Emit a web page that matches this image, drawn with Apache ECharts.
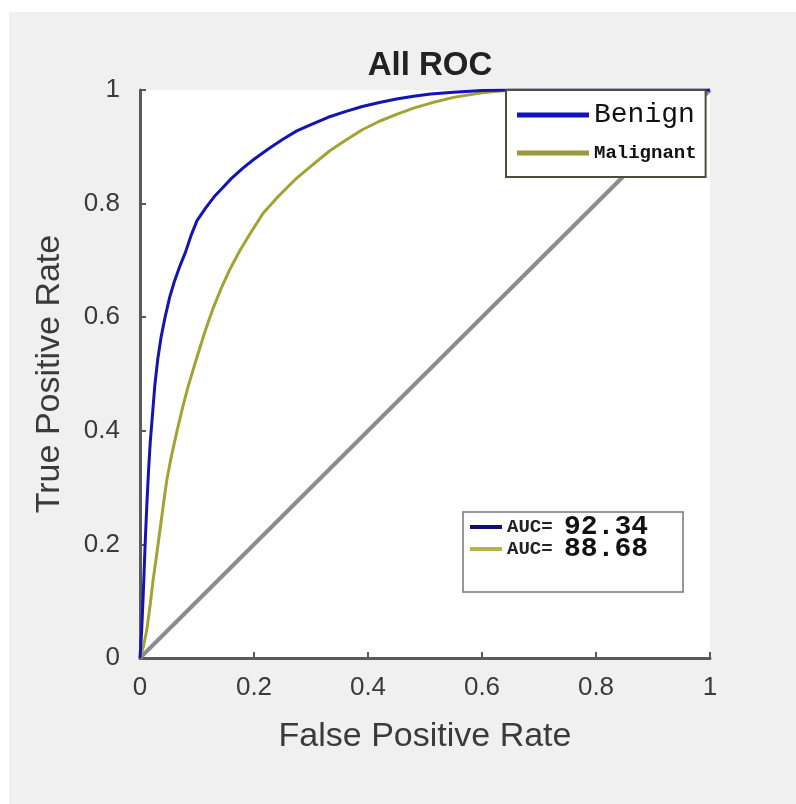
<!DOCTYPE html>
<html>
<head>
<meta charset="utf-8">
<script src="https://cdn.jsdelivr.net/npm/echarts@6/dist/echarts.min.js"></script>
<style>
html,body{margin:0;padding:0;background:#fff;width:796px;height:804px;overflow:hidden;}
#chart{position:absolute;left:9px;top:12px;width:787px;height:792px;}
</style>
</head>
<body>
<div id="chart"></div>
<script>
// ---- data ----
const titleText = 'All ROC';
const xName = 'False Positive Rate';
const yName = 'True Positive Rate';
const seriesNames = ['Benign', 'Malignant'];
const aucValues = ['92.34', '88.68'];

const benignFpr = [0, 0.003, 0.006, 0.009, 0.012, 0.015, 0.018, 0.022, 0.026, 0.031, 0.037, 0.044, 0.052, 0.06, 0.07, 0.08, 0.09, 0.1, 0.115, 0.13, 0.145, 0.16, 0.18, 0.2, 0.225, 0.25, 0.275, 0.3, 0.33, 0.36, 0.39, 0.42, 0.45, 0.48, 0.51, 0.55, 0.6, 0.65, 0.8, 1];
const benignTpr = [0, 0.05, 0.12, 0.2, 0.27, 0.33, 0.38, 0.43, 0.48, 0.525, 0.565, 0.6, 0.635, 0.662, 0.69, 0.715, 0.745, 0.77, 0.792, 0.812, 0.828, 0.844, 0.862, 0.878, 0.896, 0.913, 0.928, 0.939, 0.952, 0.962, 0.971, 0.978, 0.984, 0.989, 0.993, 0.996, 0.999, 1, 1, 1];

const malignantFpr = [0, 0.006, 0.012, 0.018, 0.023, 0.029, 0.035, 0.041, 0.047, 0.055, 0.065, 0.075, 0.085, 0.1, 0.115, 0.128, 0.143, 0.158, 0.175, 0.195, 0.216, 0.24, 0.26, 0.275, 0.3, 0.333, 0.36, 0.39, 0.42, 0.45, 0.48, 0.51, 0.55, 0.6, 0.65, 0.8, 1];
const malignantTpr = [0, 0.02, 0.05, 0.095, 0.137, 0.18, 0.225, 0.27, 0.313, 0.355, 0.4, 0.442, 0.48, 0.53, 0.578, 0.615, 0.652, 0.685, 0.717, 0.75, 0.783, 0.81, 0.83, 0.845, 0.866, 0.893, 0.911, 0.93, 0.945, 0.957, 0.968, 0.977, 0.987, 0.995, 1, 1, 1];

const diagFpr = [0, 1];
const diagTpr = [0, 1];

const xTicks = [0, 0.2, 0.4, 0.6, 0.8, 1];
const yTicks = [0, 0.2, 0.4, 0.6, 0.8, 1];

function zip(a, b) { return a.map((v, i) => [v, b[i]]); }

const chart = echarts.init(document.getElementById('chart'));
const axisColor = '#5a5a5a';
const labelColor = '#3a3a3a';

const option = {
  backgroundColor: '#f0f0f0',
  animation: false,
  title: {
    text: titleText,
    left: 416,
    top: 32,
    textAlign: 'center',
    textStyle: { fontFamily: 'Arial, Liberation Sans', fontSize: 33, fontWeight: 'bold', color: '#222' }
  },
  grid: {
    left: 131, top: 78, width: 570, height: 568,
    show: true, backgroundColor: '#ffffff', borderWidth: 0
  },
  xAxis: {
    type: 'value', min: xTicks[0], max: xTicks[xTicks.length - 1], interval: 0.2,
    name: xName, nameLocation: 'middle', nameGap: 62,
    nameTextStyle: { fontFamily: 'Arial, Liberation Sans', fontSize: 34, color: labelColor },
    axisLine: { show: true, lineStyle: { color: axisColor, width: 3 } },
    axisTick: { show: true, inside: true, length: 6, lineStyle: { color: axisColor, width: 2 } },
    axisLabel: { margin: 17, fontFamily: 'Arial, Liberation Sans', fontSize: 26, color: labelColor,
      formatter: v => String(+v.toFixed(1)) },
    splitLine: { show: false }
  },
  yAxis: {
    type: 'value', min: yTicks[0], max: yTicks[yTicks.length - 1], interval: 0.2,
    name: yName, nameLocation: 'middle', nameGap: 73,
    nameTextStyle: { fontFamily: 'Arial, Liberation Sans', fontSize: 34, color: labelColor },
    axisLine: { show: true, lineStyle: { color: axisColor, width: 3 } },
    axisTick: { show: true, inside: true, length: 6, lineStyle: { color: axisColor, width: 2 } },
    axisLabel: { margin: 20, fontFamily: 'Arial, Liberation Sans', fontSize: 26, color: labelColor,
      formatter: v => String(+v.toFixed(1)) },
    splitLine: { show: false }
  },
  legend: [
    {
      data: seriesNames,
      orient: 'vertical',
      left: 497, top: 78,
      padding: [10, 9, 9, 11],
      itemGap: 8,
      itemWidth: 72, itemHeight: 5,
      icon: 'rect',
      backgroundColor: '#ffffff',
      borderColor: '#4d4d3a', borderWidth: 2,
      selectedMode: false,
      formatter: n => n === 'Benign' ? '{b|' + n + '}' : '{m|' + n + '}',
      textStyle: {
        lineHeight: 30,
        rich: {
          b: { fontFamily: 'Liberation Mono, DejaVu Sans Mono', fontSize: 28, color: '#111', lineHeight: 30 },
          m: { fontFamily: 'Liberation Mono, DejaVu Sans Mono', fontSize: 19, fontWeight: 'bold', color: '#111', lineHeight: 30 }
        }
      }
    },
    {
      data: [
        { name: seriesNames[0], itemStyle: { color: '#101070' } },
        { name: seriesNames[1], itemStyle: { color: '#b5b545' } }
      ],
      orient: 'vertical',
      left: 454, top: 500,
      padding: [1, 35, 29, 7],
      itemGap: -6,
      itemWidth: 32, itemHeight: 4,
      icon: 'rect',
      backgroundColor: '#ffffff',
      borderColor: '#777777', borderWidth: 1.5,
      selectedMode: false,
      formatter: n => '{a|AUC= }{v|' + aucValues[seriesNames.indexOf(n)] + '}',
      textStyle: {
        lineHeight: 22,
        rich: {
          a: { fontFamily: 'Liberation Mono, DejaVu Sans Mono', fontSize: 19, fontWeight: 'bold', color: '#222', lineHeight: 22 },
          v: { fontFamily: 'Liberation Mono, DejaVu Sans Mono', fontSize: 28, fontWeight: 'bold', color: '#111', lineHeight: 22 }
        }
      }
    }
  ],
  series: [
    {
      name: 'diag', type: 'line', data: zip(diagFpr, diagTpr), showSymbol: false, symbol: 'none',
      lineStyle: { color: '#8c8c8c', width: 4 }, z: 1, silent: true
    },
    {
      name: seriesNames[0], type: 'line', data: zip(benignFpr, benignTpr), symbol: 'none',
      itemStyle: { color: '#1414b4' },
      lineStyle: { color: '#1414b4', width: 3, join: 'round' }, z: 3
    },
    {
      name: seriesNames[1], type: 'line', data: zip(malignantFpr, malignantTpr), symbol: 'none',
      itemStyle: { color: '#9a9a38' },
      lineStyle: { color: '#a3a335', width: 3, join: 'round' }, z: 2
    }
  ]
};
chart.setOption(option);
</script>
</body>
</html>
